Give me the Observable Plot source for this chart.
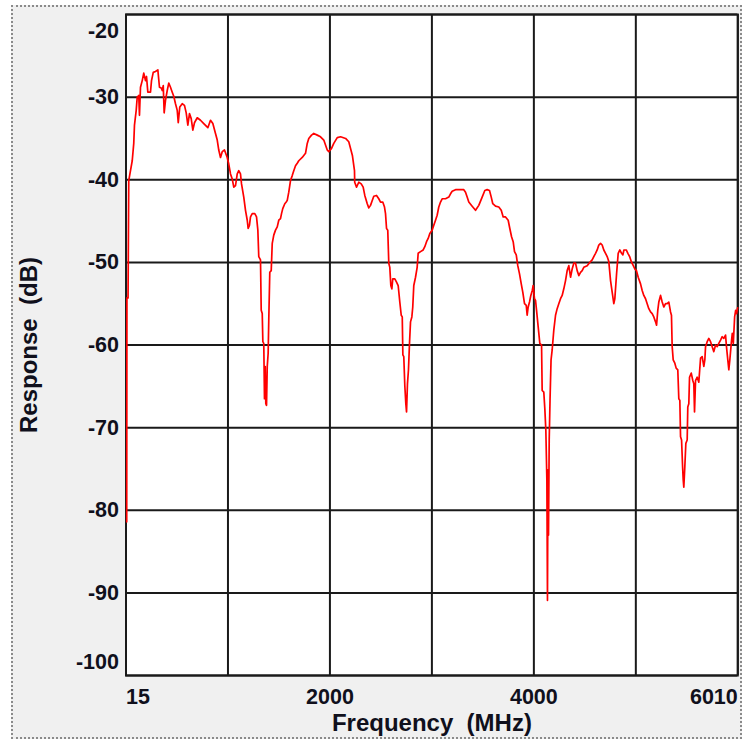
<!DOCTYPE html>
<html>
<head>
<meta charset="utf-8">
<script src="https://cdn.jsdelivr.net/npm/d3@7"></script>
<script src="https://cdn.jsdelivr.net/npm/@observablehq/plot@0.6"></script>
<style>
  html, body { margin: 0; padding: 0; background: #ffffff; }
  #wrap { position: relative; width: 743px; height: 745px; overflow: hidden; }
  #panel { position: absolute; left: 11px; top: 5px; width: 727px; height: 730px;
           background: #f0f0f0; border: 2px dotted #8a8a8a; }
  #chart { position: absolute; left: 0; top: 0; }
</style>
</head>
<body>
<div id="wrap"><div id="panel"></div><div id="chart"></div></div>
<script>
// Frequency (MHz) and response (dB)
const freqMHz = [
  22, 24, 35, 42, 59, 76, 91, 98, 115, 125, 140, 147, 157, 174, 189, 206, 216, 229, 255, 265,
  282, 304, 327, 343, 360, 370, 380, 389, 402, 419, 434, 451, 468, 483, 500, 517, 527, 542, 566, 588,
  605, 621, 637, 654, 670, 686, 713, 745, 777, 817, 843, 866, 892, 909, 924, 941, 958, 980, 1007, 1022,
  1039, 1056, 1071, 1088, 1105, 1120, 1137, 1147, 1169, 1186, 1203, 1212, 1225, 1235, 1252, 1277, 1294, 1307, 1316, 1333,
  1340, 1350, 1356, 1365, 1372, 1379, 1385, 1392, 1399, 1408, 1414, 1424, 1438, 1448, 1463, 1480, 1497, 1512, 1529, 1539,
  1551, 1571, 1585, 1595, 1610, 1627, 1644, 1659, 1676, 1693, 1708, 1742, 1774, 1791, 1806, 1833, 1855, 1889, 1921, 1953,
  1970, 1987, 2002, 2029, 2051, 2085, 2118, 2167, 2198, 2234, 2254, 2256, 2274, 2296, 2320, 2339, 2355, 2379, 2394, 2411,
  2428, 2443, 2470, 2492, 2509, 2531, 2548, 2558, 2568, 2580, 2590, 2600, 2610, 2620, 2629, 2649, 2666, 2682, 2698, 2712,
  2722, 2728, 2737, 2747, 2757, 2764, 2773, 2783, 2793, 2803, 2816, 2825, 2835, 2852, 2868, 2878, 2901, 2927, 2943, 2960,
  2976, 2992, 3015, 3031, 3048, 3064, 3080, 3097, 3113, 3146, 3178, 3195, 3211, 3244, 3276, 3325, 3342, 3358, 3374, 3407,
  3440, 3472, 3505, 3531, 3554, 3577, 3594, 3609, 3636, 3668, 3692, 3711, 3734, 3760, 3776, 3793, 3809, 3822, 3839, 3854,
  3871, 3888, 3903, 3920, 3937, 3946, 3956, 3969, 3982, 3996, 4005, 4018, 4028, 4038, 4054, 4070, 4087, 4093, 4109, 4119,
  4129, 4139, 4145, 4150, 4155, 4162, 4170, 4180, 4191, 4207, 4224, 4240, 4256, 4273, 4289, 4305, 4322, 4338, 4354, 4371,
  4387, 4403, 4420, 4436, 4452, 4469, 4485, 4501, 4534, 4567, 4583, 4599, 4616, 4632, 4648, 4665, 4681, 4697, 4714, 4730,
  4746, 4763, 4779, 4795, 4805, 4822, 4838, 4854, 4871, 4884, 4894, 4917, 4933, 4950, 4966, 4986, 5001, 5017, 5034, 5057,
  5073, 5089, 5106, 5122, 5138, 5155, 5171, 5187, 5204, 5214, 5226, 5236, 5253, 5269, 5285, 5302, 5318, 5334, 5351, 5360,
  5367, 5377, 5393, 5406, 5422, 5432, 5442, 5449, 5459, 5469, 5475, 5481, 5491, 5501, 5514, 5520, 5530, 5537, 5554, 5569,
  5579, 5586, 5596, 5612, 5628, 5645, 5661, 5677, 5687, 5694, 5710, 5726, 5743, 5759, 5775, 5792, 5808, 5824, 5841, 5857,
  5873, 5890, 5899, 5912, 5922, 5932, 5946, 5956, 5966, 5979, 5989, 5998, 6008
];
const responseDb = [
  -81.4, -54.3, -54.3, -40.1, -38.9, -37.7, -35.6, -33.4, -31.6, -30.0, -29.8, -32.2, -28.8, -28.0, -27.1, -28.0, -27.5, -29.4, -29.4, -28.0,
  -27.0, -26.9, -26.7, -28.8, -28.9, -29.2, -28.6, -31.9, -30.4, -29.2, -28.3, -28.8, -29.4, -29.9, -30.8, -31.6, -33.1, -31.2, -30.8, -31.0,
  -31.9, -33.4, -32.0, -32.6, -34.0, -33.1, -32.5, -32.8, -33.2, -33.7, -32.8, -33.2, -34.4, -35.2, -36.4, -37.3, -36.6, -36.4, -37.3, -38.1,
  -39.3, -39.9, -40.9, -40.7, -39.3, -38.9, -39.3, -40.5, -42.1, -43.7, -44.9, -45.9, -45.5, -44.5, -44.1, -44.1, -44.5, -46.1, -49.3, -49.7,
  -55.8, -56.2, -59.6, -59.8, -66.5, -62.6, -67.1, -67.3, -62.6, -61.0, -57.0, -51.2, -51.0, -47.7, -46.7, -46.1, -45.7, -44.9, -44.7, -44.1,
  -43.5, -42.9, -42.7, -42.5, -41.5, -40.1, -39.5, -38.9, -38.3, -38.0, -37.7, -37.3, -36.8, -35.6, -35.0, -34.6, -34.4, -34.6, -34.8, -35.2,
  -35.8, -36.4, -36.6, -36.2, -35.6, -34.9, -34.8, -35.0, -35.4, -37.1, -38.9, -40.3, -40.9, -40.3, -40.5, -40.9, -41.9, -42.9, -43.4, -43.1,
  -42.5, -42.0, -41.9, -42.3, -42.7, -42.7, -43.3, -44.1, -45.9, -46.1, -50.1, -50.6, -52.8, -53.2, -52.0, -52.0, -52.4, -52.8, -54.8, -56.4,
  -56.6, -61.2, -61.4, -64.9, -67.1, -68.1, -64.7, -63.0, -59.8, -57.2, -56.6, -55.4, -52.8, -51.8, -50.6, -48.9, -48.7, -48.5, -48.1, -47.5,
  -47.1, -46.5, -46.1, -45.5, -44.9, -44.3, -43.3, -42.7, -42.3, -42.3, -42.1, -41.7, -41.4, -41.2, -41.2, -41.2, -41.5, -42.1, -42.7, -43.2,
  -43.7, -43.1, -42.1, -41.3, -41.2, -41.3, -42.1, -42.9, -43.2, -43.3, -43.7, -44.5, -44.5, -44.9, -45.9, -46.9, -47.5, -48.7, -49.1, -50.4,
  -51.4, -52.6, -53.6, -55.0, -55.2, -56.4, -55.4, -54.8, -54.0, -53.4, -52.8, -54.4, -54.6, -55.8, -57.8, -59.8, -60.0, -65.5, -65.7, -67.7,
  -70.3, -76.3, -90.9, -75.1, -83.0, -71.5, -66.7, -61.8, -60.6, -58.2, -56.4, -55.6, -55.0, -54.4, -54.0, -53.2, -52.2, -51.0, -50.4, -51.8,
  -50.8, -50.1, -50.1, -51.0, -51.6, -51.2, -51.0, -50.6, -50.4, -49.9, -49.7, -49.3, -48.9, -48.5, -47.9, -47.7, -47.9, -48.5, -48.9, -49.3,
  -49.9, -52.2, -53.6, -55.0, -54.4, -51.4, -48.9, -48.5, -48.9, -49.1, -48.5, -48.5, -48.9, -49.3, -49.9, -50.4, -50.8, -51.0, -51.8, -52.6,
  -53.4, -54.0, -54.4, -55.0, -55.6, -56.0, -56.2, -56.6, -57.2, -57.6, -55.8, -54.8, -54.0, -54.8, -55.4, -55.0, -55.0, -54.8, -56.0, -56.4,
  -60.2, -61.8, -62.2, -62.8, -63.0, -66.5, -66.7, -71.1, -71.5, -74.7, -76.3, -77.2, -74.7, -71.9, -71.5, -67.5, -67.1, -63.9, -63.4, -64.3,
  -64.7, -68.1, -64.3, -63.9, -64.5, -61.6, -61.4, -62.6, -61.8, -60.2, -59.6, -59.2, -59.6, -60.2, -60.8, -60.0, -60.2, -59.8, -59.4, -59.0,
  -59.2, -58.8, -60.2, -61.8, -63.0, -61.8, -59.8, -58.6, -59.8, -56.6, -55.8, -56.2, -55.5
];

// Axis ticks / gridlines
const xGridValues = [15, 1014.2, 2013.3, 3012.5, 4011.7, 5010.8, 6010];
const xTickLabels = ["15", "", "2000", "", "4000", "", "6010"];
const yTickValues = [-20, -30, -40, -50, -60, -70, -80, -90, -100];
const yTickLabels = ["-20", "-30", "-40", "-50", "-60", "-70", "-80", "-90", "-100"];
const xTitle = "Frequency  (MHz)";
const yTitle = "Response  (dB)";

const data = freqMHz.map((f, i) => ({f, db: responseDb[i]}));
const xLabelOf = v => xTickLabels[xGridValues.indexOf(v)];
const yLabelOf = v => yTickLabels[yTickValues.indexOf(v)];

const font = "'Liberation Sans', Arial, sans-serif";
const tickFont = 21.5;
const titleFont = 24;
const gridColor = "#1a1a1a";
const textColor = "#10101c";

const chart = Plot.plot({
  width: 743,
  height: 745,
  marginLeft: 125.5,
  marginRight: 5.7,
  marginTop: 14,
  marginBottom: 70,
  x: {domain: [15, 6010]},
  y: {domain: [-100, -20]},
  style: {background: "transparent", fontFamily: font, fontWeight: "bold", color: textColor},
  marks: [
    Plot.frame({fill: "white"}),
    Plot.gridX(xGridValues, {stroke: gridColor, strokeOpacity: 1, strokeWidth: 2}),
    Plot.gridY(yTickValues, {stroke: gridColor, strokeOpacity: 1, strokeWidth: 2}),
    Plot.frame({stroke: gridColor, strokeWidth: 2}),
    Plot.line(data, {x: "f", y: "db", stroke: "#ff0000", strokeWidth: 1.7}),
    Plot.axisY(yTickValues.slice(1, -1), {tickSize: 0, tickPadding: 7, fontSize: tickFont, label: null, tickFormat: yLabelOf}),
    Plot.axisY([-20], {tickSize: 0, tickPadding: 7, fontSize: tickFont, label: null, tickFormat: yLabelOf, dy: 17}),
    Plot.axisY([-100], {tickSize: 0, tickPadding: 7, fontSize: tickFont, label: null, tickFormat: yLabelOf, dy: -13}),
    Plot.axisX([xGridValues[0]], {tickSize: 0, tickPadding: 13, fontSize: tickFont, label: null, tickFormat: xLabelOf, textAnchor: "start"}),
    Plot.axisX([xGridValues[2], xGridValues[4]], {tickSize: 0, tickPadding: 13, fontSize: tickFont, label: null, tickFormat: xLabelOf}),
    Plot.axisX([xGridValues[6]], {tickSize: 0, tickPadding: 13, fontSize: tickFont, label: null, tickFormat: xLabelOf, textAnchor: "end"}),
    Plot.text([xTitle], {frameAnchor: "bottom", dy: 55, fontSize: titleFont, fontWeight: "bold", fill: textColor}),
    Plot.text([yTitle], {frameAnchor: "left", textAnchor: "middle", dx: -97, rotate: -90, fontSize: titleFont, fontWeight: "bold", fill: textColor})
  ]
});
document.getElementById("chart").appendChild(chart);
</script>
</body>
</html>
